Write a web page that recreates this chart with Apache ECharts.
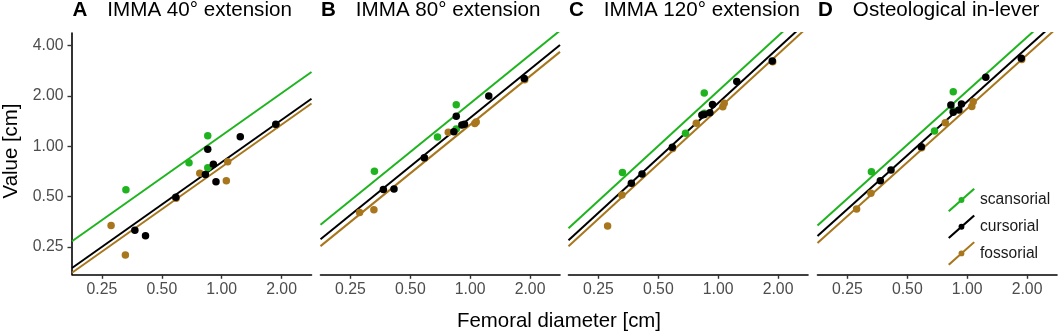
<!DOCTYPE html>
<html>
<head>
<meta charset="UTF-8">
<title>Femoral diameter</title>
<script src="https://cdn.jsdelivr.net/npm/echarts@6/dist/echarts.min.js"></script>
<style>
    html, body { margin: 0; padding: 0; background: #fff; }
    #main { width: 1059px; height: 333px; }
</style>
</head>
<body>
<div id="main"></div>
<script type="text/javascript">
    // axis limits and ticks (cm, log2 scale)
    var xLim = [0.1768, 2.828];
    var yLim = [0.172, 4.757];
    var xTicks = [0.25, 0.5, 1, 2];
    var yTicks = [0.25, 0.5, 1, 2, 4];

    var panelLetters = ['A', 'B', 'C', 'D'];
    var panelTitles = ['IMMA 40° extension', 'IMMA 80° extension', 'IMMA 120° extension', 'Osteological in-lever'];
    var groups = ['scansorial', 'cursorial', 'fossorial'];

    // femoral diameter [cm]
    var scansorialX = [0.330, 0.685, 0.851, 0.851];
    var cursorialX = [0.366, 0.414, 0.588, 0.828, 0.851, 0.908, 0.936, 1.240, 1.870];
    var fossorialX = [0.278, 0.328, 0.590, 0.776, 1.055, 1.072, 1.880];

    // value [cm] per panel
    var scansorialA = [0.550, 0.798, 1.157, 0.745];
    var scansorialB = [0.709, 1.137, 1.775, 1.270];
    var scansorialC = [0.699, 1.197, 2.085, 1.576];
    var scansorialD = [0.705, 1.235, 2.120, 1.630];

    var cursorialA = [0.315, 0.292, 0.496, 0.680, 0.960, 0.781, 0.614, 1.142, 1.355];
    var cursorialB = [0.553, 0.556, 0.855, 1.224, 1.513, 1.342, 1.355, 2.000, 2.540];
    var cursorialC = [0.601, 0.683, 0.987, 1.540, 1.550, 1.590, 1.780, 2.440, 3.240];
    var cursorialD = [0.623, 0.722, 0.995, 1.767, 1.600, 1.650, 1.790, 2.590, 3.360];

    var fossorialA = [0.337, 0.224, 0.490, 0.690, 0.623, 0.809, 1.340];
    var fossorialB = [0.403, 0.418, 0.850, 1.213, 1.370, 1.400, 2.500];
    var fossorialC = [0.334, 0.512, 0.970, 1.374, 1.727, 1.810, 3.200];
    var fossorialD = [0.422, 0.524, 0.980, 1.385, 1.730, 1.850, 3.300];

    // fitted lines (log-log): common slope per panel, value at 1 cm per group
    var fitSlope = [0.840, 0.964, 1.090, 1.068];
    var fitScansorial = [1.161, 1.805, 2.144, 2.144];
    var fitCursorial = [0.804, 1.479, 1.815, 1.853];
    var fitFossorial = [0.753, 1.347, 1.670, 1.682];

    var groupX = { scansorial: scansorialX, cursorial: cursorialX, fossorial: fossorialX };
    var groupY = {
        scansorial: [scansorialA, scansorialB, scansorialC, scansorialD],
        cursorial: [cursorialA, cursorialB, cursorialC, cursorialD],
        fossorial: [fossorialA, fossorialB, fossorialC, fossorialD]
    };
    var groupFit = { scansorial: fitScansorial, cursorial: fitCursorial, fossorial: fitFossorial };
    var colors = { scansorial: '#1fb41f', cursorial: '#000000', fossorial: '#a8761c' };

    var font = 'Liberation Sans, Arial, Helvetica, sans-serif';
    var gridLeft = [72, 320.5, 568.5, 817.5];
    var log2 = function (v) { return Math.log(v) / Math.LN2; };

    var grids = [], xAxes = [], yAxes = [], titles = [], series = [];

    for (var p = 0; p < 4; p++) {
        grids.push({ left: gridLeft[p], top: 33, width: 239.5, height: 241.3 });
        xAxes.push({
            type: 'value', gridIndex: p,
            min: log2(xLim[0]), max: log2(xLim[1]),
            splitLine: { show: false },
            axisLine: { show: true, onZero: false, lineStyle: { color: '#000', width: 1.6 } },
            axisTick: { show: true, length: 4.5, customValues: xTicks.map(log2), lineStyle: { color: '#333', width: 1.4 } },
            axisLabel: {
                customValues: xTicks.map(log2), margin: 7.5,
                color: '#4d4d4d', fontSize: 15.8, fontFamily: font,
                formatter: function (v) { return Math.pow(2, v).toFixed(2); }
            }
        });
        yAxes.push({
            type: 'value', gridIndex: p,
            min: log2(yLim[0]), max: log2(yLim[1]),
            splitLine: { show: false },
            axisLine: { show: p === 0, onZero: false, lineStyle: { color: '#000', width: 1.6 } },
            axisTick: { show: p === 0, length: 4.5, customValues: yTicks.map(log2), lineStyle: { color: '#333', width: 1.4 } },
            axisLabel: {
                show: p === 0,
                customValues: yTicks.map(log2), margin: 8.5,
                color: '#4d4d4d', fontSize: 15.8, fontFamily: font,
                formatter: function (v) { return Math.pow(2, v).toFixed(2); }
            }
        });
        titles.push({
            left: gridLeft[p] + 0.5, top: 0, padding: 0,
            text: '{a|' + panelLetters[p] + '}{b|' + panelTitles[p] + '}',
            textStyle: {
                fontWeight: 'normal',
                rich: {
                    a: { fontFamily: font, fontSize: 20.6, fontWeight: 'bold', color: '#000', lineHeight: 20 },
                    b: { fontFamily: font, fontSize: 20.6, fontWeight: 'normal', color: '#000', lineHeight: 20, padding: [0, 0, 0, 20] }
                }
            }
        });

        // fitted lines
        groups.forEach(function (g) {
            var b = log2(groupFit[g][p]);
            var m = fitSlope[p];
            var x0 = log2(xLim[0]), x1 = log2(xLim[1]);
            series.push({
                name: g, type: 'line', xAxisIndex: p, yAxisIndex: p,
                data: [[x0, b + m * x0], [x1, b + m * x1]],
                showSymbol: false, silent: true, clip: true, z: 2,
                color: colors[g],
                lineStyle: { color: colors[g], width: 2 }
            });
        });
    }

    // points, black drawn last
    ['scansorial', 'fossorial', 'cursorial'].forEach(function (g) {
        for (var p = 0; p < 4; p++) {
            var xs = groupX[g], ys = groupY[g][p];
            series.unshift({
                name: g, type: 'scatter', xAxisIndex: p, yAxisIndex: p,
                data: xs.map(function (x, i) { return [log2(x), log2(ys[i])]; }),
                symbolSize: 7.5, z: g === 'cursorial' ? 5 : (g === 'fossorial' ? 4 : 3),
                color: colors[g],
                itemStyle: { color: colors[g], opacity: 1 }
            });
        }
    });

    var myChart = echarts.init(document.getElementById('main'));
    var option = {
        animation: false,
        backgroundColor: '#fff',
        title: titles,
        grid: grids,
        xAxis: xAxes,
        yAxis: yAxes,
        legend: {
            data: groups,
            orient: 'vertical',
            left: 943, top: 183,
            itemWidth: 27, itemHeight: 24, itemGap: 2.7,
            selectedMode: false,
            icon: 'path://M0,23 L26,0 L27.5,1.5 L1.5,24.5 Z M10.75,12.25 A3,3 0 1,1 16.75,12.25 A3,3 0 1,1 10.75,12.25 Z',
            textStyle: { fontFamily: font, fontSize: 15.6, color: '#1a1a1a' }
        },
        graphic: [
            {
                type: 'text', x: 559, y: 321,
                style: { text: 'Femoral diameter [cm]', font: '20.4px ' + font, fill: '#000', textAlign: 'center', textVerticalAlign: 'middle' }
            },
            {
                type: 'text', x: 11, y: 151, rotation: Math.PI / 2,
                style: { text: 'Value [cm]', font: '20.4px ' + font, fill: '#000', textAlign: 'center', textVerticalAlign: 'middle' }
            }
        ],
        series: series
    };
    myChart.setOption(option);
</script>
</body>
</html>
